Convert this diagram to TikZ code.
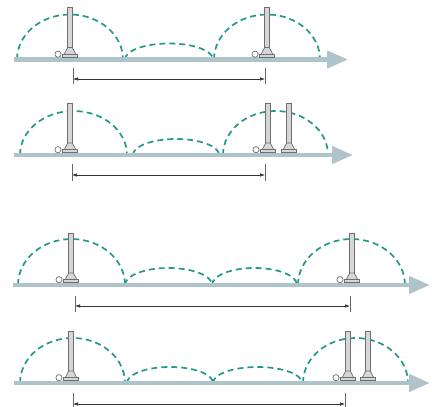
\documentclass[tikz,border=0pt]{standalone}
\usepackage{tikz}
\usetikzlibrary{arrows.meta,calc}

\definecolor{axisgrey}{HTML}{AFC3CA}
\definecolor{jumpteal}{HTML}{23998A}
\definecolor{poleedge}{HTML}{6E6E6E}
\definecolor{polefill}{HTML}{D6D6D6}

\begin{document}
\begin{tikzpicture}[x=1pt, y=1pt,
    axis/.style={draw=axisgrey, line width=4.5pt, -{Triangle[length=21pt, width=17pt]}},
    jump/.style={draw=jumpteal, line width=1.7pt, dash pattern=on 6pt off 4pt},
    dimline/.style={draw=black!80, line width=0.6pt, {Latex[length=5pt, width=3.5pt]}-{Latex[length=5pt, width=3.5pt]}},
    dimtick/.style={draw=black!60, line width=0.7pt},
    pole/.pic={
      \filldraw[fill=polefill, draw=poleedge, line width=0.7pt] (-2.3,5) rectangle (2.3,52);
      \filldraw[fill=polefill, draw=poleedge, line width=0.7pt] (-6,5) -- (-2.3,12) -- (2.3,12) -- (6,5) -- cycle;
      \filldraw[fill=polefill, draw=poleedge, line width=0.7pt] (-7.5,2.3) rectangle (7.5,5.2);
    },
    ball/.pic={
      \filldraw[fill=white, draw=poleedge, line width=0.7pt] (0,5.3) circle[radius=3.1];
    }]
    \useasboundingbox (0,0) rectangle (432,407);

    % row 1
    \draw[jump] (17,347.5) arc[start angle=180, end angle=0, x radius=53, y radius=45];
    \draw[jump] (125,347.5) arc[start angle=180, end angle=0, x radius=44, y radius=16];
    \draw[jump] (214,347.5) arc[start angle=180, end angle=0, x radius=53, y radius=45];
    \draw[axis] (14,347.5) -- (348,347.5);
    \pic at (70,347.5) {pole};
    \pic at (58,347.5) {ball};
    \pic at (267,347.5) {pole};
    \pic at (255,347.5) {ball};
    \coordinate (r1s) at (73,328);
    \coordinate (r1e) at (265,328);
    \draw[dimline] (r1s) -- (r1e);
    \draw[dimtick] ($(r1s)+(0,11)$) -- ($(r1s)+(0,-5)$);
    \draw[dimtick] ($(r1e)+(0,11)$) -- ($(r1e)+(0,-5)$);

    % row 2
    \draw[jump] (20,252) arc[start angle=180, end angle=0, x radius=53.5, y radius=44];
    \draw[jump] (133,252) arc[start angle=180, end angle=0, x radius=43, y radius=16];
    \draw[jump] (223,252) arc[start angle=180, end angle=0, x radius=52.5, y radius=44];
    \draw[axis] (14,252) -- (353,252);
    \pic at (70,252) {pole};
    \pic at (58,252) {ball};
    \pic at (268,252) {pole};
    \pic at (256,252) {ball};
    \pic at (289,252) {pole};
    \coordinate (r2s) at (72,232);
    \coordinate (r2e) at (265,232);
    \draw[dimline] (r2s) -- (r2e);
    \draw[dimtick] ($(r2s)+(0,11)$) -- ($(r2s)+(0,-6)$);
    \draw[dimtick] ($(r2e)+(0,11)$) -- ($(r2e)+(0,-6)$);

    % row 3
    \draw[jump] (18,122) arc[start angle=180, end angle=0, x radius=53.5, y radius=46];
    \draw[jump] (125,122) arc[start angle=180, end angle=0, x radius=43.5, y radius=17];
    \draw[jump] (212,122) arc[start angle=180, end angle=0, x radius=42.5, y radius=17];
    \draw[jump] (298,122) arc[start angle=180, end angle=0, x radius=53.5, y radius=46];
    \draw[axis] (13,122) -- (430,122);
    \pic at (71,122) {pole};
    \pic at (59,122) {ball};
    \pic at (352,122) {pole};
    \pic at (340,122) {ball};
    \coordinate (r3s) at (75,101);
    \coordinate (r3e) at (350,101);
    \draw[dimline] (r3s) -- (r3e);
    \draw[dimtick] ($(r3s)+(0,10)$) -- ($(r3s)+(0,-6)$);
    \draw[dimtick] ($(r3e)+(0,10)$) -- ($(r3e)+(0,-6)$);

    % row 4
    \draw[jump] (20,24) arc[start angle=180, end angle=0, x radius=52.5, y radius=45];
    \draw[jump] (127,24) arc[start angle=180, end angle=0, x radius=43, y radius=16];
    \draw[jump] (213,24) arc[start angle=180, end angle=0, x radius=44.5, y radius=16];
    \draw[jump] (303,24) arc[start angle=180, end angle=0, x radius=52.5, y radius=45];
    \draw[axis] (14,24) -- (430,24);
    \pic at (71,24) {pole};
    \pic at (59,24) {ball};
    \pic at (348,24) {pole};
    \pic at (336,24) {ball};
    \pic at (368,24) {pole};
    \coordinate (r4s) at (73,3);
    \coordinate (r4e) at (345,3);
    \draw[dimline] (r4s) -- (r4e);
    \draw[dimtick] ($(r4s)+(0,11)$) -- ($(r4s)+(0,-6)$);
    \draw[dimtick] ($(r4e)+(0,11)$) -- ($(r4e)+(0,-6)$);
\end{tikzpicture}
\end{document}
